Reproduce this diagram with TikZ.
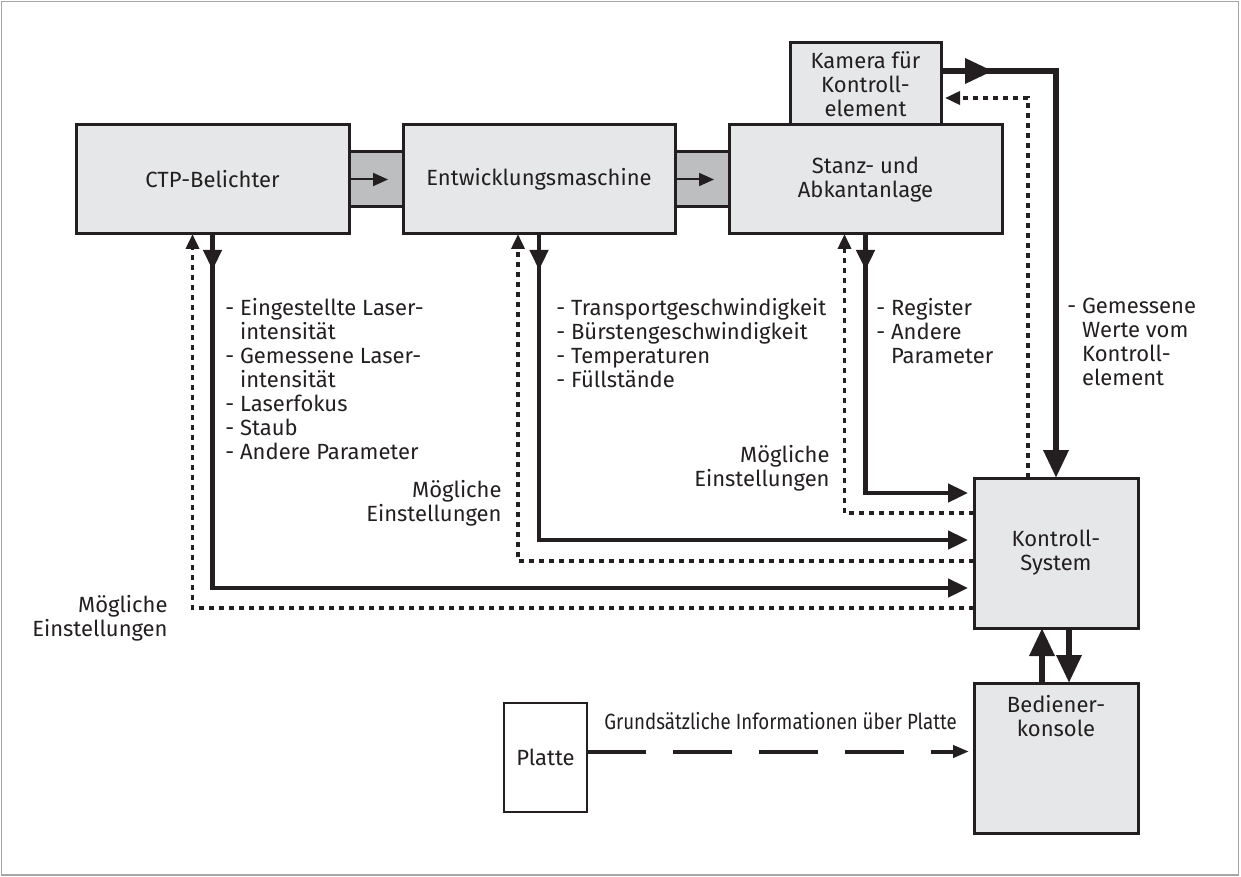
\documentclass[tikz,border=0pt]{standalone}
\usepackage{fontspec}
\setmainfont{Fira Sans}
\newfontfamily\condensed[FakeStretch=0.85]{Fira Sans}
\usetikzlibrary{positioning, arrows.meta}
\definecolor{boxgray}{HTML}{E6E7E8}
\definecolor{bandgray}{HTML}{BCBEC0}
\definecolor{ink}{HTML}{231F20}
\tikzstyle{machine} = [rectangle, draw=ink, line width=1.5pt, fill=boxgray, align=center, inner sep=0pt, outer sep=0pt, text=ink]
\tikzstyle{band} = [rectangle, draw=ink, line width=1.5pt, fill=bandgray, inner sep=0pt, outer sep=0pt, minimum width=27pt, minimum height=27.5pt]
\tikzstyle{plate} = [rectangle, draw=ink, line width=1.3pt, fill=white, inner sep=0pt, outer sep=0pt, minimum width=41.5pt, minimum height=54.5pt, text=ink]
\tikzstyle{textlist} = [align=left, anchor=north west, inner sep=0pt, text=ink]
\tikzstyle{hint} = [align=right, anchor=east, inner sep=0pt, text=ink]
\tikzstyle{flow} = [draw=ink, line width=2.3pt, -{Triangle[length=10pt, width=9pt]}]
\tikzstyle{bigflow} = [draw=ink, line width=3.2pt, -{Triangle[length=14pt, width=12pt]}]
\tikzstyle{setting} = [draw=ink, line width=1.8pt, dash pattern=on 2.5pt off 2.5pt, -{Triangle[length=7.5pt, width=6.5pt]}]
\tikzstyle{pass} = [draw=ink, line width=1pt, -{Triangle[length=7.5pt, width=6.5pt]}]
\tikzstyle{info} = [draw=ink, line width=2pt, dash pattern=on 29.5pt off 13.5pt, -{Triangle[length=8pt, width=6pt]}]

\begin{document}
\begin{tikzpicture}[x=0.5pt, y=-0.5pt, font=\fontsize{11}{12}\selectfont]
    \useasboundingbox (0,0) rectangle (1241,877);
    \draw[gray!70, line width=0.8pt] (1.5,1.5) rectangle (1238.5,875);

    \node (ctp) [machine, minimum width=136.5pt, minimum height=54.5pt] at (212.5,179.5) {CTP-Belichter};
    \node (band1) [band, right=0pt of ctp] {};
    \node (entw) [machine, minimum width=136pt, minimum height=54.5pt, right=0pt of band1] {Entwicklungsmaschine};
    \node (band2) [band, right=0pt of entw] {};
    \node (stanz) [machine, minimum width=136.5pt, minimum height=54.5pt, right=0pt of band2] {Stanz- und\\Abkantanlage};
    \node (kamera) [machine, minimum width=75.5pt, minimum height=41pt, above=0pt of stanz] {Kamera für\\Kontroll-\\element};
    \node (ks) [machine, minimum width=82pt, minimum height=75pt] at (1056,553) {Kontroll-\\System};
    \node (bk) [machine, minimum width=82pt, minimum height=75pt, below=27.5pt of ks] {};
    \node (bktext) [below=6pt of bk.north, align=center, inner sep=0pt, text=ink] {Bediener-\\konsole};
    \node (platte) [plate] at (545.5,757.5) {Platte};

    \node (ctpinfo) [textlist] at (225,298) {- Eingestellte Laser-\\\phantom{- }intensität\\- Gemessene Laser-\\\phantom{- }intensität\\- Laserfokus\\- Staub\\- Andere Parameter};
    \node (entwinfo) [textlist] at (556,298) {- Transportgeschwindigkeit\\- Bürstengeschwindigkeit\\- Temperaturen\\- Füllstände};
    \node (stanzinfo) [textlist] at (876,298) {- Register\\- Andere\\\phantom{- }Parameter};
    \node (kamerainfo) [textlist] at (1067,298) {- Gemessene\\\phantom{- }Werte vom\\\phantom{- }Kontroll-\\\phantom{- }element};
    \node (hint1) [hint] at (168,618) {Mögliche\\Einstellungen};
    \node (hint2) [hint] at (502,503) {Mögliche\\Einstellungen};
    \node (hint3) [hint] at (830,468) {Mögliche\\Einstellungen};

    \draw[pass] (ctp.east) -- ([xshift=-7.5pt]band1.east);
    \draw[pass] (entw.east) -- ([xshift=-7.5pt]band2.east);

    \draw[flow, shorten >=3pt] (ctp.south) |- ([yshift=-17.5pt]ks.west);
    \draw[flow] (ctp.south) -- ++(0,36);
    \draw[flow, shorten >=3pt] (entw.south) |- ([yshift=6.5pt]ks.west);
    \draw[flow] (entw.south) -- ++(0,36);
    \draw[flow, shorten >=3pt] (stanz.south) |- ([yshift=30pt]ks.west);
    \draw[flow] (stanz.south) -- ++(0,36);

    \draw[setting] ([yshift=-27.5pt]ks.west) -| ([xshift=-10pt]ctp.south);
    \draw[setting] ([yshift=-4pt]ks.west) -| ([xshift=-10.5pt]entw.south);
    \draw[setting] ([yshift=20pt]ks.west) -| ([xshift=-10.5pt]stanz.south);

    \draw[bigflow] ([yshift=6.5pt]kamera.east) -| (ks.north);
    \draw[bigflow] ([yshift=6.5pt]kamera.east) -- ++(52,0);
    \draw[setting, shorten >=2pt] ([xshift=-14pt]ks.north) |- ([yshift=-7pt]kamera.east);

    \draw[bigflow] ([xshift=-7pt]bk.north) -- ([xshift=-7pt]ks.south);
    \draw[bigflow] ([xshift=6.5pt]ks.south) -- ([xshift=6.5pt]bk.north);

    \coordinate (pstart) at ([yshift=3pt]platte.east);
    \draw[info, shorten >=2.5pt] (pstart) -- (pstart -| bk.west) node[midway, above=10pt, inner sep=0pt, text=ink, font=\condensed\fontsize{11}{12}\selectfont] {Grundsätzliche Informationen über Platte};
\end{tikzpicture}
\end{document}
